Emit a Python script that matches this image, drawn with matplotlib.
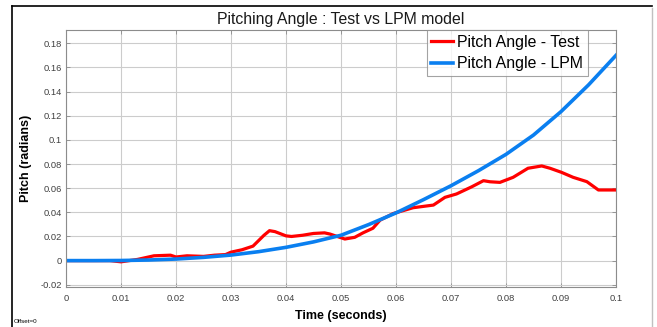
import numpy as np
import matplotlib
matplotlib.use("Agg")
import matplotlib.pyplot as plt
from matplotlib.lines import Line2D

plt.rcParams['font.family'] = ['Liberation Sans', 'DejaVu Sans']

t_test = [0.0, 0.005, 0.008, 0.010, 0.013, 0.016, 0.019, 0.020, 0.022, 0.025,
          0.027, 0.029, 0.030, 0.032, 0.034, 0.036, 0.037, 0.038, 0.040, 0.041,
          0.043, 0.045, 0.047, 0.048, 0.0507, 0.0525, 0.054, 0.0558, 0.0571,
          0.0595, 0.0631, 0.0668, 0.0689, 0.071, 0.0738, 0.0759, 0.0771, 0.0789,
          0.0813, 0.084, 0.0865, 0.088, 0.0901, 0.0922, 0.0947, 0.0968, 0.1]
pitch_test = [0.0, 0.0, 0.0, -0.001, 0.001, 0.004, 0.0045, 0.003, 0.004, 0.0035,
              0.0045, 0.005, 0.007, 0.009, 0.012, 0.021, 0.0248, 0.024, 0.0205, 0.020,
              0.021, 0.0225, 0.023, 0.022, 0.0179, 0.0193, 0.023, 0.0268, 0.0335,
              0.039, 0.0438, 0.046, 0.0524, 0.0552, 0.0612, 0.0662, 0.0653, 0.0648,
              0.069, 0.0765, 0.0784, 0.0765, 0.0731, 0.069, 0.0654, 0.0585, 0.0585]

# LPM model
t_lpm = [0.0, 0.005, 0.01, 0.015, 0.02, 0.025, 0.03, 0.035, 0.04, 0.045, 0.05,
         0.055, 0.06, 0.065, 0.07, 0.075, 0.08, 0.085, 0.09, 0.095, 0.1]
pitch_lpm = [0.0, 0.0, 0.0001, 0.0005, 0.0013, 0.0027, 0.0046, 0.0074, 0.011,
             0.0155, 0.021, 0.0298, 0.0395, 0.0505, 0.062, 0.0745, 0.088, 0.104,
             0.1234, 0.1455, 0.170]

fig = plt.figure(figsize=(6.57, 3.27), dpi=100)
ax = fig.add_axes([66/657, 1-286.7/327, 550/657, 256.7/327])

ax.plot(t_test, pitch_test, color='#ff0000', lw=2.3, label='Pitch Angle - Test')
ax.plot(t_lpm, pitch_lpm, color='#0a7ff0', lw=2.6, label='Pitch Angle - LPM')

ax.set_xlim(0, 0.1)
ax.set_ylim(-0.0216, 0.191)
ax.set_xticks(np.arange(0, 0.1001, 0.01))
ax.set_xticklabels(['0', '0.01', '0.02', '0.03', '0.04', '0.05', '0.06', '0.07',
                    '0.08', '0.09', '0.1'])
ax.set_yticks(np.arange(-0.02, 0.1801, 0.02))
ax.set_yticklabels(['-0.02', '0', '0.02', '0.04', '0.06', '0.08', '0.1', '0.12',
                    '0.14', '0.16', '0.18'])
ax.grid(True, color='#cccccc', lw=0.8)
ax.set_axisbelow(True)
ax.tick_params(direction='in', length=3, width=0.6, colors='#8c8c8c',
               labelcolor='#404040', labelsize=6.7, top=True, right=True)
ax.tick_params(axis='y', pad=3)
ax.tick_params(axis='x', pad=5)
for s in ax.spines.values():
    s.set_color('#8c8c8c')
    s.set_linewidth(0.8)

ax.set_title('Pitching Angle : Test vs LPM model', fontsize=11.4, pad=4, color='#1a1a1a')
ax.set_xlabel('Time (seconds)', fontsize=9, fontweight='bold', labelpad=5)
ax.set_ylabel('Pitch (radians)', fontsize=9, fontweight='bold', labelpad=6)

leg = ax.legend(loc='upper right', bbox_to_anchor=(588/657, 1-30/327),
                bbox_transform=fig.transFigure, borderaxespad=0, fontsize=11.4,
                frameon=True, fancybox=False, handlelength=1.4, handletextpad=0.25,
                borderpad=0.3, labelspacing=0.4)
leg.get_frame().set_edgecolor('#8c8c8c')
leg.get_frame().set_linewidth(0.8)

# outer frame of the screenshot
fig.add_artist(Line2D([12/657, 652/657], [1-6/327, 1-6/327], color='black', lw=1.2,
                      transform=fig.transFigure))
fig.add_artist(Line2D([12/657, 12/657], [0, 1-6/327], color='black', lw=1.2,
                      transform=fig.transFigure))
fig.add_artist(Line2D([652/657, 652/657], [0, 1-8/327], color='#c0c0c0', lw=1.0,
                      transform=fig.transFigure))
fig.text(14/657, 1-323/327, 'Offset=0', fontsize=4.5, va='baseline')

fig.savefig('out.png', dpi=100)
